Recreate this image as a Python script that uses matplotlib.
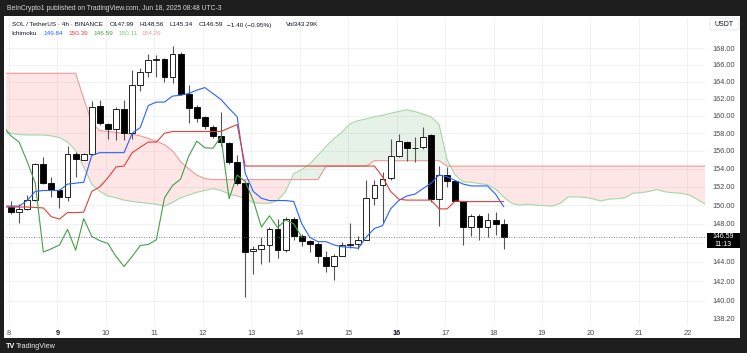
import numpy as np
import matplotlib
matplotlib.use("Agg")
import matplotlib.pyplot as plt
from matplotlib.patches import Rectangle, FancyBboxPatch

# --- SOL/USDT 4h candles, Jun 8 01:00 -> Jun 18 05:00 (UTC-3) ---
opens = [149.8, 149.3, 149.6, 150.6, 154.5, 152.4, 151.6, 150.9, 155.6, 155.0,
         155.7, 161.1, 159.1, 158.5, 160.75, 158.05, 163.6, 165.2, 166.6, 166.7,
         164.5, 167.3, 162.6, 161.0, 159.9, 158.7, 157.65, 156.9, 154.8, 152.4,
         145.1, 145.35, 145.75, 147.4, 145.2, 148.55, 146.65, 146.2, 145.8, 144.5,
         143.5, 144.6, 145.7, 145.8, 146.3, 150.8, 152.2, 152.95, 155.4, 157.0,
         156.35, 156.4, 157.8, 150.7, 153.3, 152.6, 150.5, 147.65, 148.85, 147.6,
         148.4, 147.99]
highs = [150.45, 150.15, 151.1, 154.6, 155.3, 153.1, 151.8, 156.5, 155.9, 155.8,
         161.7, 161.8, 159.2, 161.0, 161.9, 165.4, 165.6, 167.3, 167.2, 166.8,
         168.3, 167.5, 163.6, 161.3, 160.0, 158.9, 160.5, 157.0, 155.5, 152.6,
         145.6, 146.6, 147.6, 148.5, 148.7, 148.7, 146.9, 146.3, 146.1, 145.1,
         144.85, 146.1, 148.1, 146.7, 152.8, 152.8, 153.6, 157.3, 157.95, 157.1,
         157.6, 158.7, 157.9, 154.3, 154.2, 152.8, 150.5, 149.1, 149.1, 149.2,
         149.3, 148.56]
lows = [149.1, 148.1, 149.5, 150.5, 152.3, 150.85, 149.65, 150.45, 153.1, 155.0,
        155.7, 158.9, 157.4, 157.2, 157.2, 157.3, 162.9, 164.6, 164.5, 164.0,
        163.8, 162.4, 159.2, 159.3, 158.5, 157.5, 156.5, 154.5, 152.2, 140.4,
        142.7, 143.75, 144.0, 144.4, 145.0, 146.3, 145.6, 145.0, 143.9, 142.95,
        142.1, 144.55, 145.4, 145.3, 146.25, 150.0, 148.2, 152.8, 155.3, 154.9,
        154.8, 156.2, 150.35, 147.8, 151.95, 150.45, 145.75, 146.65, 146.25, 146.55,
        146.8, 145.34]
closes = [149.25, 149.6, 150.6, 154.5, 152.45, 151.6, 150.9, 155.6, 155.1, 155.7,
          161.0, 159.2, 158.5, 160.75, 158.05, 163.6, 165.2, 166.6, 166.7, 164.5,
          167.3, 162.6, 160.9, 159.8, 158.8, 157.7, 157.0, 154.8, 152.4, 145.0,
          145.35, 145.75, 147.4, 145.2, 148.55, 146.65, 146.2, 145.9, 144.55, 143.5,
          144.55, 145.7, 145.8, 146.3, 150.8, 152.15, 152.85, 155.4, 157.1, 156.35,
          156.3, 157.6, 150.7, 153.3, 152.6, 150.5, 147.65, 148.85, 147.6, 148.4,
          148.0, 146.59]

# --- Ichimoku, one value per bar from bar -1 to bar 61 ---
tenkan = [149.9, 149.9, 149.9, 150.5, 151.5, 151.6, 151.6, 151.6, 152.3, 152.4,
          152.5, 155.5, 155.8, 155.8, 155.8, 155.8, 158.0, 158.65, 161.2, 161.6,
          161.6, 162.3, 162.4, 162.6, 163.0, 163.3, 162.6, 161.9, 160.85, 159.9,
          153.5, 151.5, 150.75, 150.5, 150.5, 150.5, 150.4, 148.0, 146.55, 146.1,
          146.1, 145.75, 145.55, 145.5, 145.4, 146.6, 147.5, 147.8, 149.6, 150.5,
          151.0, 151.2, 151.8, 152.4, 153.3, 153.1, 152.7, 152.3, 152.1, 152.1,
          152.1, 151.2, 149.84]
kijun = [149.8, 149.8, 149.8, 149.8, 149.75, 149.7, 148.75, 148.5, 149.2, 149.2,
         149.25, 151.5, 152.0, 153.0, 154.2, 154.3, 155.8, 156.4, 157.0, 157.0,
         158.0, 158.2, 158.2, 158.2, 158.2, 158.2, 158.2, 158.2, 158.6, 159.0,
         154.3, 154.3, 154.3, 154.3, 154.3, 154.3, 154.3, 154.3, 154.3, 154.3,
         154.3, 154.3, 154.3, 154.3, 154.3, 154.3, 154.3, 153.1, 151.5, 150.65,
         150.55, 150.55, 150.55, 150.55, 149.6, 149.6, 150.45, 150.39, 150.39, 150.39,
         150.39, 150.39, 150.39]
# leading spans, bar -1 to bar 86 (shifted 25 bars ahead)
span_a = [158.05, 158.0, 157.85, 157.8, 157.8, 157.8, 157.7, 157.5, 157.0, 156.05,
          154.2, 152.3, 151.5, 151.0, 150.8, 150.55, 150.4, 150.3, 150.2, 150.1,
          149.9, 150.3, 150.8, 151.1, 151.4, 151.6, 151.8, 151.6, 151.2, 151.0,
          150.7, 150.3, 150.2, 150.2, 150.5, 151.5, 153.45, 153.9, 154.55, 155.5,
          156.5, 157.4, 158.15, 159.1, 159.45, 159.65, 159.9, 160.05, 160.3, 160.5,
          160.7, 160.5, 160.2, 159.9, 159.0, 155.0, 153.3, 152.55, 152.5, 152.35,
          152.25, 151.75, 150.9, 150.2, 150.0, 150.1, 150.0, 149.95, 149.9, 150.2,
          150.9, 150.9, 150.85, 150.7, 150.45, 150.65, 150.7, 150.8, 151.3, 151.35,
          151.5, 151.7, 151.45, 151.35, 151.3, 151.1, 150.6, 150.11]
span_b = [165.0, 165.0, 165.0, 165.0, 165.0, 165.0, 165.0, 165.0, 165.0, 165.0,
          162.0, 159.2, 158.3, 158.2, 158.1, 158.0, 157.9, 157.7, 157.4, 157.1,
          156.7, 156.0, 154.8, 154.0, 153.3, 152.9, 152.8, 152.8, 152.8, 152.8,
          152.8, 152.8, 152.8, 152.8, 152.8, 152.8, 152.8, 152.8, 152.8, 152.8,
          154.3, 154.3, 154.3, 154.3, 154.3, 154.3, 154.9, 154.9, 154.9, 154.9,
          154.9, 154.9, 154.9, 154.9, 154.9] + [154.29] * 33

day_ticks = list(range(8, 23))
price_ticks = [138.2, 140, 142, 144, 148, 150, 152, 154, 156, 158, 160, 162, 164, 166, 168]
grid_prices = list(range(140, 170, 2))

W, H = 747, 353
BLUE, RED, GREEN = "#2962ff", "#e0413b", "#43a047"
SPAN_A_C, SPAN_B_C = "#a5d6a7", "#ef9a9a"
TXT = "#131722"


def fx(x):
    return x / W


def fy(y):
    return 1 - y / H


def main():
    plt.rcParams["font.family"] = ["Liberation Sans", "DejaVu Sans"]
    fig = plt.figure(figsize=(W / 100, H / 100), dpi=100, facecolor="#1e1e1e")

    # white chart panel inside the dark frame
    fig.patches.append(Rectangle((fx(4), fy(338)), fx(736), 322 / H,
                                 transform=fig.transFigure, facecolor="white",
                                 edgecolor="none", zorder=-5))

    ax = fig.add_axes([fx(6), fy(325), fx(699), 307 / H])
    ax.set_facecolor("white")
    ax.set_yscale("log")
    ax.set_ylim(137.56, 171.72)
    ax.set_xlim(7.938, 22.363)

    o, h, l, c = map(np.array, (opens, highs, lows, closes))
    t = 8 + 1 / 24 + np.arange(len(c)) / 6
    t_ind = 8 + 1 / 24 + np.arange(-1, len(c)) / 6
    t_span = 8 + 1 / 24 + np.arange(-1, len(span_a) - 1) / 6

    # grid
    for p in grid_prices:
        ax.axhline(p, color="#f0f2f6", lw=0.7, zorder=0)
    for d in day_ticks:
        ax.axvline(d, color="#f0f2f6", lw=0.7, zorder=0)

    # cloud
    sa, sb = np.array(span_a), np.array(span_b)
    ax.fill_between(t_span, sa, sb, where=sa >= sb, interpolate=True,
                    color="#43a047", alpha=0.13, lw=0, zorder=1)
    ax.fill_between(t_span, sa, sb, where=sa < sb, interpolate=True,
                    color="#f44336", alpha=0.13, lw=0, zorder=1)
    ax.plot(t_span, sa, color=SPAN_A_C, lw=0.8, zorder=2)
    ax.plot(t_span, sb, color=SPAN_B_C, lw=0.8, zorder=2)

    # candles
    up = c >= o
    lo = np.minimum(o, c)
    hgt = np.maximum(np.abs(c - o), 0.05)
    ax.vlines(t, l, h, color="#555555", lw=0.8, zorder=3)
    ax.bar(t, hgt, bottom=lo, width=0.12, color=np.where(up, "white", "black"),
           edgecolor="black", lw=0.6, zorder=4)

    # ichimoku lines
    ax.plot(t_ind, tenkan, color=BLUE, lw=0.8, zorder=5)
    ax.plot(t_ind, kijun, color=RED, lw=0.8, zorder=5)
    chikou = closes[24:]
    ax.plot(t_ind[:len(chikou)], chikou, color=GREEN, lw=0.8, zorder=5)

    # last price line
    ax.axhline(closes[-1], color="#666666", lw=0.6, ls=(0, (1, 2)), zorder=6)

    # axes styling
    for s in ax.spines.values():
        s.set_visible(False)
    ax.yaxis.tick_right()
    ax.yaxis.set_minor_locator(matplotlib.ticker.NullLocator())
    ax.set_yticks(price_ticks)
    ax.set_yticklabels([f"{p:.2f}" for p in price_ticks])
    ax.tick_params(axis="y", length=0, pad=5.5, labelsize=5.3, labelcolor="#4a4a4a")
    ax.set_xticks(day_ticks)
    ax.set_xticklabels([str(d) for d in day_ticks])
    ax.tick_params(axis="x", length=0, pad=3.5, labelsize=5.3, labelcolor="#4a4a4a")
    for lab in ax.get_xticklabels():
        if lab.get_text() in ("9", "16"):
            lab.set_fontweight("bold")
            lab.set_color(TXT)

    # current price tag
    fig.patches.append(Rectangle((fx(707), fy(248)), fx(33), 15 / H,
                                 transform=fig.transFigure, facecolor="black",
                                 edgecolor="none", zorder=5))
    fig.text(fx(723.5), fy(236.7), f"{closes[-1]:.2f}", color="white",
             fontsize=5.0, ha="center", va="center", zorder=6)
    fig.text(fx(723.5), fy(244), "11:13", color="white",
             fontsize=5.0, ha="center", va="center", zorder=6)

    # USDT box
    fig.patches.append(FancyBboxPatch((fx(710), fy(30)), fx(29), 12 / H,
                                      boxstyle="round,pad=0,rounding_size=0.004",
                                      transform=fig.transFigure, facecolor="white",
                                      edgecolor="#e0e3eb", lw=0.6, zorder=5))
    fig.text(fx(724.5), fy(24), "USDT", color=TXT, fontsize=5.0,
             ha="center", va="center", zorder=6)

    # header texts
    fig.text(fx(6.5), fy(8.3), "BeInCrypto1 published on TradingView.com, Jun 18, 2025 08:48 UTC-3",
             color="#d8d8d8", fontsize=4.9, va="center")
    fs = 4.6
    y2 = fy(25)
    fig.text(fx(11.5), y2, "SOL / TetherUS · 4h · BINANCE", color=TXT, fontsize=fs, va="center")
    for x, s in [(110, f"O{opens[-1]:.2f}"), (140, f"H{highs[-1]:.2f}"),
                 (170, f"L{lows[-1]:.2f}"), (199, f"C{closes[-1]:.2f}"),
                 (227, "\u22121.40 (\u22120.95%)"), (286, "Vol343.29K")]:
        fig.text(fx(x), y2, s, color=TXT, fontsize=fs, va="center")
    y3 = fy(33.3)
    fig.text(fx(11.5), y3, "Ichimoku", color=TXT, fontsize=fs, va="center")
    for x, v, col in [(43.3, tenkan[-1], BLUE), (68.3, kijun[-1], RED),
                      (93.3, closes[-1], GREEN), (118.3, span_a[-1], "#81c784"),
                      (141.7, span_b[-1], SPAN_B_C)]:
        fig.text(fx(x), y3, f"{v:.2f}", color=col, fontsize=fs, va="center")

    # footer logo
    fig.text(fx(6), fy(346.5), "TV", color="white", fontsize=5.2, fontweight="bold", va="center")
    fig.text(fx(16), fy(346.5), "TradingView", color="#e8e8e8", fontsize=5.2, va="center")

    fig.savefig("out.png", dpi=100, facecolor=fig.get_facecolor())


if __name__ == "__main__":
    main()
